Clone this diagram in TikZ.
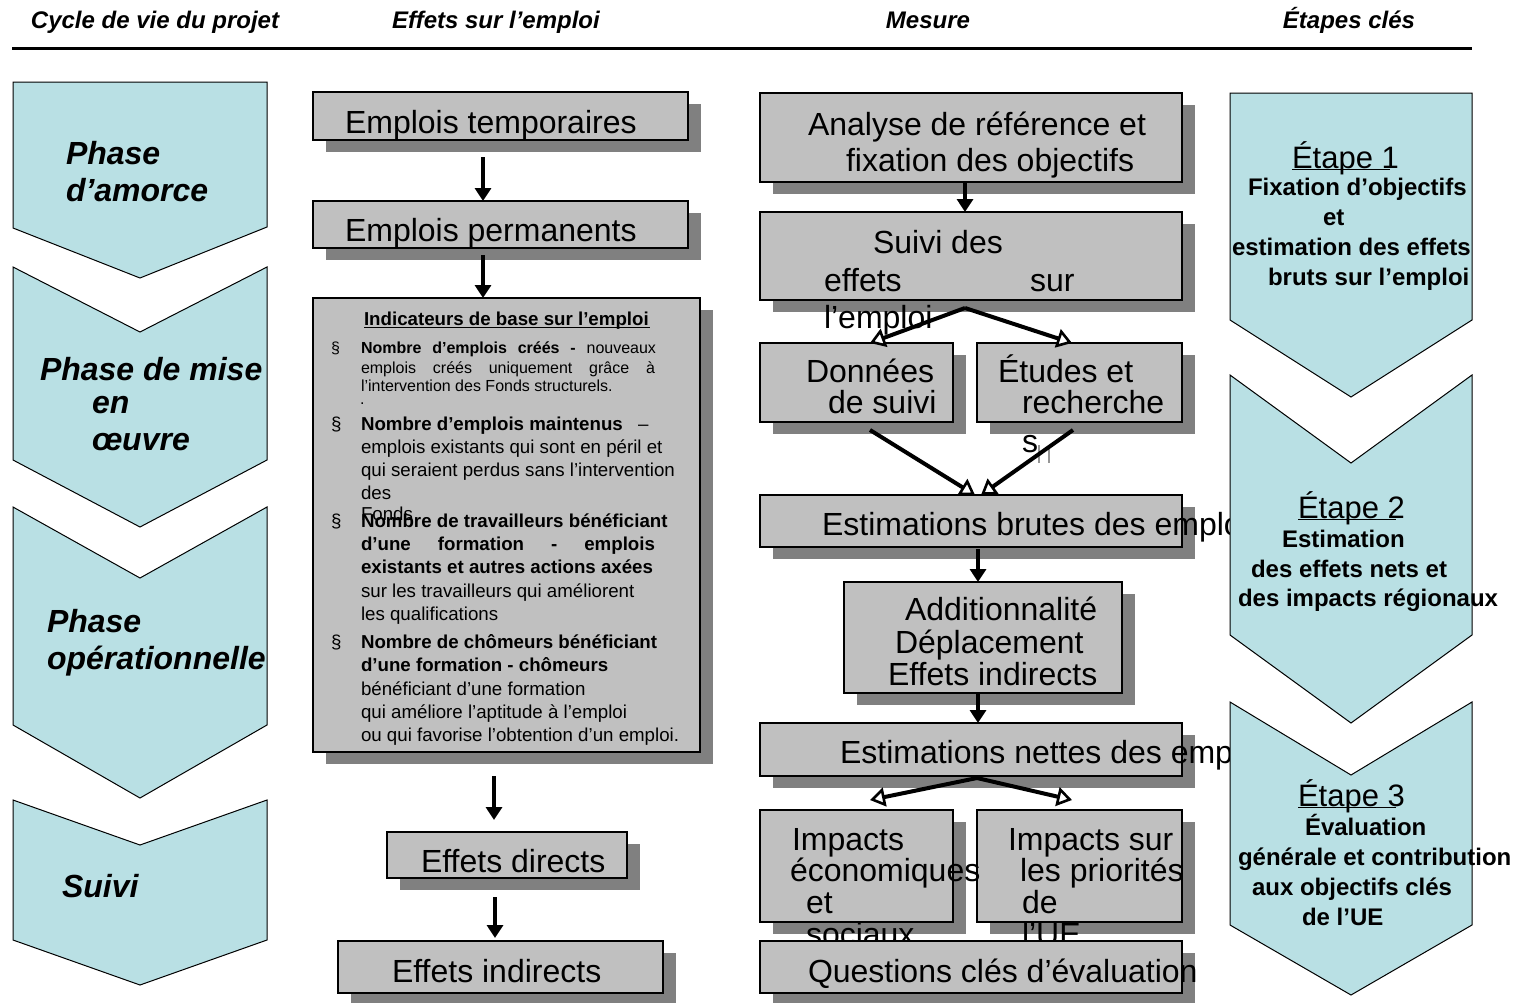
\documentclass[tikz,border=0pt]{standalone}
\usepackage{fontspec}
\setmainfont{Liberation Sans}
\usetikzlibrary{arrows.meta,shadows}
\definecolor{chev}{RGB}{185,224,228}
\definecolor{boxg}{RGB}{192,192,192}
\definecolor{shad}{RGB}{128,128,128}
\definecolor{ghost}{RGB}{150,150,150}
\newcommand\fsz[1]{\fontsize{#1}{#1}\selectfont}
\begin{document}
\begin{tikzpicture}[x=1pt,y=-1pt,
  gbox/.style={draw=black,line width=1.6pt,fill=boxg,inner sep=0pt,outer sep=0pt,
     drop shadow={shadow xshift=13pt,shadow yshift=-12pt,fill=shad,opacity=1}},
  chevron/.style={fill=chev,draw=black,line width=1pt,line join=miter},
  txt/.style={anchor=base west,inner sep=0pt,outer sep=0pt},
  ctxt/.style={anchor=base,inner sep=0pt,outer sep=0pt},
  big/.style={txt,font=\fsz{32}},
  phase/.style={txt,font=\fsz{32}\bfseries\itshape},
  hdr/.style={ctxt,font=\fsz{24}\bfseries\itshape},
  etape/.style={txt,font=\fsz{31}},
  etb/.style={txt,font=\fsz{24}\bfseries},
  ind/.style={txt,font=\fsz{18.7}},
  indb/.style={txt,font=\fsz{18.7}\bfseries},
  sml/.style={txt,font=\fsz{16}},
  varr/.style={line width=4pt,-{Triangle[length=13pt,width=16pt]}},
  sarr/.style={line width=4pt,-{Triangle[length=15pt,width=19pt,fill=white,line width=2.6pt]}},
]
\useasboundingbox (0,0) rectangle (1520,1002);
\fill[white] (0,0) rectangle (1520,1002);

% ---------- header ----------
\node[hdr] (h1) at (155,28) {Cycle de vie du projet};
\node[hdr] (h2) at (496,28) {Effets sur l’emploi};
\node[hdr] (h3) at (928,28) {Mesure};
\node[hdr] (h4) at (1349,28) {Étapes clés};
\coordinate (hl) at (12,48);
\coordinate (hr) at (1472,48);
\draw[line width=3pt] (hl) -- (hr);

% ---------- left chevrons ----------
\path[chevron] (13,82) -- (267,82) -- (267,227) -- (140,278) -- (13,228) -- cycle;
\path[chevron] (13,267) -- (140,332) -- (267,267) -- (267,460) -- (140,527) -- (13,460) -- cycle;
\path[chevron] (13,507) -- (140,578) -- (267,507) -- (267,725) -- (140,798) -- (13,725) -- cycle;
\path[chevron] (13,800) -- (140,845) -- (267,800) -- (267,940) -- (140,985) -- (13,940) -- cycle;
\node[phase] (p1a) at (66,164) {Phase};
\node[phase] (p1b) at (66,201) {d’amorce};
\node[phase] (p2a) at (40,380) {Phase de mise};
\node[phase] (p2b) at (92,413) {en};
\node[phase] (p2c) at (92,450) {œuvre};
\node[phase] (p3a) at (47,632) {Phase};
\node[phase] (p3b) at (47,669) {opérationnelle};
\node[phase] (p4a) at (62,897) {Suivi};

% ---------- Effets sur l'emploi ----------
\node[gbox,minimum width=375pt,minimum height=48pt] (et) at (500.5,116) {};
\node[big] (tet) at (345,133) {Emplois temporaires};
\node[gbox,minimum width=375pt,minimum height=47pt] (ep) at (500.5,224.5) {};
\node[big] (tep) at (345,241) {Emplois permanents};
\node[gbox,minimum width=387pt,minimum height=454pt] (ind) at (506.5,525) {};

\node[txt,font=\fsz{18.7}\bfseries] (ititle) at (364,325)
  {\makebox[0pt][l]{\rule[-3pt]{286pt}{1.3pt}}Indicateurs de base sur l’emploi};
% item 1
\node[sml] (b1) at (331,353) {§};
\node[sml] (i1a) at (361,353) {\makebox[295pt][s]{\textbf{Nombre d’emplois créés -} nouveaux}};
\node[sml] (i1b) at (361,373) {\makebox[294pt][s]{emplois créés uniquement grâce à}};
\node[sml] (i1c) at (361,391) {l’intervention des Fonds structurels.};
\node[sml] (i1d) at (360,404) {.};
% item 2
\node[sml,font=\fsz{18.7}] (b2) at (331,430) {§};
\node[indb] (i2a) at (361,430) {Nombre d’emplois maintenus};
\node[ind] (i2x) at (638,430) {–};
\node[ind] (i2b) at (361,453) {emplois existants qui sont en péril et};
\node[ind] (i2c) at (361,476) {qui seraient perdus sans l’intervention};
\node[ind] (i2d) at (361,499) {des};
\node[ind] (i2e) at (361,520) {Fonds};
% item 3
\node[sml,font=\fsz{18.7}] (b3) at (331,527) {§};
\node[indb] (i3a) at (361,527) {Nombre de travailleurs bénéficiant};
\node[indb] (i3b) at (361,550) {\makebox[294pt][s]{d’une formation - emplois}};
\node[indb] (i3c) at (361,573) {existants et autres actions axées};
\node[ind] (i3d) at (361,597) {sur les travailleurs qui améliorent};
\node[ind] (i3e) at (361,620) {les qualifications};
% item 4
\node[sml,font=\fsz{18.7}] (b4) at (331,648) {§};
\node[indb] (i4a) at (361,648) {Nombre de chômeurs bénéficiant};
\node[indb] (i4b) at (361,671) {d’une formation - chômeurs};
\node[ind] (i4c) at (361,695) {bénéficiant d’une formation};
\node[ind] (i4d) at (361,718) {qui améliore l’aptitude à l’emploi};
\node[ind] (i4e) at (361,741) {ou qui favorise l’obtention d’un emploi.};

\node[gbox,minimum width=240pt,minimum height=46pt] (ed) at (507,855) {};
\node[big] (ted) at (421,872) {Effets directs};
\node[gbox,minimum width=325pt,minimum height=52pt] (ei) at (500.5,967) {};
\node[big] (tei) at (392,982) {Effets indirects};

% ---------- Mesure ----------
\node[gbox,minimum width=422pt,minimum height=89pt] (an) at (971,137.5) {};
\node[big] (tan1) at (808,135) {Analyse de référence et};
\node[big] (tan2) at (846,171) {fixation des objectifs};
\node[gbox,minimum width=422pt,minimum height=88pt] (sv) at (971,256) {};
\node[big] (tsv1) at (873,253) {Suivi des};
\node[big] (tsv2) at (824,291) {effets};
\node[big] (tsv3) at (1030,291) {sur};
\node[big] (tsv4) at (824,328) {l’emploi};
\node[gbox,minimum width=193pt,minimum height=79pt] (ds) at (856.5,382.5) {};
\node[big] (tds1) at (806,382) {Données};
\node[big] (tds2) at (828,413) {de suivi};
\node[gbox,minimum width=205pt,minimum height=79pt] (er) at (1079.5,382.5) {};
\node[big] (ter1) at (998,382) {Études et};
\node[big] (ter2) at (1022,413) {recherche};
\node[big] (ter3) at (1022,452) {s};
\coordinate (g1a) at (1039,445); \coordinate (g1b) at (1039,463);
\coordinate (g2a) at (1049,445); \coordinate (g2b) at (1049,463);
\draw[ghost,line width=1.5pt] (g1a) -- (g1b) (g2a) -- (g2b);
\node[gbox,minimum width=422pt,minimum height=52pt] (eb) at (971,521) {};
\node[big] (teb) at (822,535) {Estimations brutes des emplois};
\node[gbox,minimum width=278pt,minimum height=111pt] (ad) at (983,637.5) {};
\node[big] (tad1) at (905,620) {Additionnalité};
\node[big] (tad2) at (895,653) {Déplacement};
\node[big] (tad3) at (888,685) {Effets indirects};
\node[gbox,minimum width=422pt,minimum height=53pt] (en) at (971,749.5) {};
\node[big] (ten) at (840,763) {Estimations nettes des emplois};
\node[gbox,minimum width=193pt,minimum height=112pt] (ie) at (856.5,866) {};
\node[gbox,minimum width=205pt,minimum height=112pt] (ip) at (1079.5,866) {};
\node[big] (tie1) at (792,850) {Impacts};
\node[big] (tie2) at (790,881) {économiques};
\node[big] (tie3) at (806,913) {et};
\node[big] (tie4) at (806,945) {sociaux};
\node[big] (tip1) at (1008,850) {Impacts sur};
\node[big] (tip2) at (1020,881) {les priorités};
\node[big] (tip3) at (1022,913) {de};
\node[big] (tip4) at (1022,945) {l’UE};
\node[gbox,minimum width=422pt,minimum height=52pt] (qc) at (971,967) {};
\node[big] (tqc) at (808,982) {Questions clés d’évaluation};

% ---------- arrows ----------
\draw[varr] ([xshift=-17.5pt,yshift=-17pt]et.south) -- ([xshift=-17.5pt]ep.north);
\draw[varr] ([xshift=-17.5pt,yshift=-7pt]ep.south) -- ([xshift=-23.5pt]ind.north);
\draw[varr] ([xshift=-12.5pt,yshift=-24pt]ind.south) -- ([xshift=-13pt,yshift=12pt]ed.north);
\draw[varr] ([xshift=-12pt,yshift=-19pt]ed.south) -- ([xshift=-5.5pt,yshift=3pt]ei.north);

\draw[varr] ([xshift=-6pt]an.south) -- ([xshift=-6pt]sv.north);
\draw[sarr] ([xshift=-6pt,yshift=-8pt]sv.south) -- ([xshift=13.5pt]ds.north);
\draw[sarr] ([xshift=-6pt,yshift=-8pt]sv.south) -- ([xshift=-7.5pt]er.north);
\draw[sarr] ([xshift=13.5pt,yshift=-8pt]ds.south) -- ([xshift=4pt]eb.north);
\draw[sarr] ([xshift=-6.5pt,yshift=-8pt]er.south) -- ([xshift=10pt]eb.north);
\draw[varr] ([xshift=7pt,yshift=-2pt]eb.south) -- ([xshift=-5pt]ad.north);
\draw[varr] ([xshift=-5pt]ad.south) -- ([xshift=7pt]en.north);
\draw[sarr] ([xshift=6pt,yshift=-2pt]en.south) -- ([xshift=13.5pt,yshift=10pt]ie.north);
\draw[sarr] ([xshift=6pt,yshift=-2pt]en.south) -- ([xshift=-7.5pt,yshift=10pt]ip.north);

% ---------- right chevrons ----------
\path[chevron] (1230,93) -- (1472,93) -- (1472,320) -- (1351,397) -- (1230,320) -- cycle;
\path[chevron] (1230,375) -- (1351,463) -- (1472,375) -- (1472,635) -- (1351,723) -- (1230,635) -- cycle;
\path[chevron] (1230,702) -- (1351,775) -- (1472,702) -- (1472,925) -- (1351,995) -- (1230,925) -- cycle;

\node[etape] (s1) at (1292,168) {\makebox[0pt][l]{\rule[-2pt]{98pt}{1.5pt}}Étape 1};
\node[etb] (s1a) at (1248,195) {Fixation d’objectifs};
\node[etb] (s1b) at (1323,225) {et};
\node[etb] (s1c) at (1232,255) {estimation des effets};
\node[etb] (s1d) at (1268,285) {bruts sur l’emploi};

\node[etape] (s2) at (1298,518) {\makebox[0pt][l]{\rule[-2pt]{98pt}{1.5pt}}Étape 2};
\node[etb] (s2a) at (1282,547) {Estimation};
\node[etb] (s2b) at (1251,577) {des effets nets et};
\node[etb] (s2c) at (1238,606) {des impacts régionaux};

\node[etape] (s3) at (1298,806) {\makebox[0pt][l]{\rule[-2pt]{98pt}{1.5pt}}Étape 3};
\node[etb] (s3a) at (1305,835) {Évaluation};
\node[etb] (s3b) at (1238,865) {générale et contribution};
\node[etb] (s3c) at (1252,895) {aux objectifs clés};
\node[etb] (s3d) at (1302,925) {de l’UE};
\end{tikzpicture}
\end{document}
